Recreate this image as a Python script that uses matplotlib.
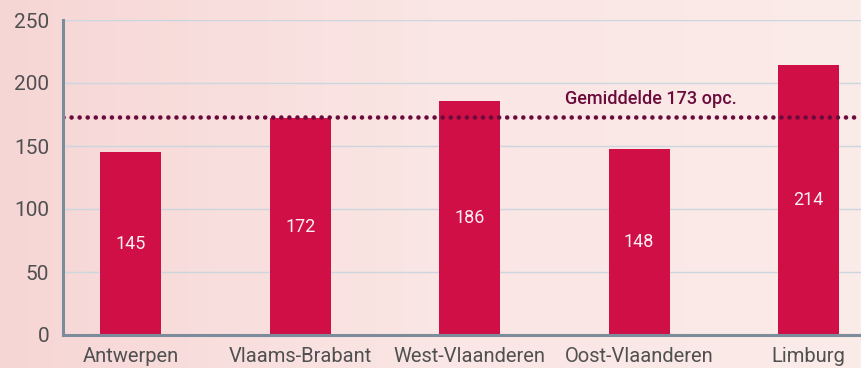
import numpy as np
import matplotlib.pyplot as plt
from matplotlib.colors import LinearSegmentedColormap

provinces = ['Antwerpen', 'Vlaams-Brabant', 'West-Vlaanderen', 'Oost-Vlaanderen', 'Limburg']
values = [145, 172, 186, 148, 214]
average = 173
average_label = 'Gemiddelde 173 opc.'

plt.rcParams['font.family'] = ['Roboto', 'DejaVu Sans']

bar_color = '#d10f47'
line_color = '#6b0b3c'
axis_color = '#7d8c9a'
grid_color = '#ccd6de'
text_color = '#505050'

fig = plt.figure(figsize=(8.61, 3.68), dpi=100)

# soft pink background, a bit darker on the left
bg = fig.add_axes([0, 0, 1, 1], zorder=-10)
bg_cmap = LinearSegmentedColormap.from_list('bg', ['#f6d6d5', '#fae6e4', '#fbebe9'])
bg.imshow(np.linspace(0, 1, 256)[None, :], aspect='auto', cmap=bg_cmap,
          extent=[0, 1, 0, 1])
bg.axis('off')

ax = fig.add_axes([63 / 861, 1 - 335 / 368, 1 - 63 / 861, 315 / 368])
ax.set_facecolor('none')

x = np.arange(len(provinces))
bars = ax.bar(x, values, width=0.36, color=bar_color, zorder=3)

for xi, v in zip(x, values):
    ax.text(xi, v / 2, str(v), ha='center', va='center', color='#fbeef2',
            fontsize=13, zorder=4)

ax.axhline(average, color=line_color, linewidth=3.3, linestyle=(0, (0.01, 1.75)),
           dash_capstyle='round', zorder=5)
ax.text(3.07, 180, average_label, ha='center', va='bottom',
        color=line_color, fontsize=13, fontweight='medium', zorder=5)

ax.set_xlim(-0.40, 4.31)
ax.set_ylim(0, 250)
ax.set_yticks(range(0, 251, 50))
ax.set_xticks(x)
ax.set_xticklabels(provinces)
ax.yaxis.grid(True, color=grid_color, linewidth=1, zorder=0)
ax.set_axisbelow(True)

for side in ['top', 'right']:
    ax.spines[side].set_visible(False)
for side in ['left', 'bottom']:
    ax.spines[side].set_color(axis_color)
    ax.spines[side].set_linewidth(2.2)
    ax.spines[side].set_zorder(6)

ax.tick_params(axis='both', length=0, colors=text_color)
ax.tick_params(axis='y', labelsize=15, pad=10)
ax.tick_params(axis='x', labelsize=14.5, pad=9)

fig.savefig('out.png', dpi=100)
